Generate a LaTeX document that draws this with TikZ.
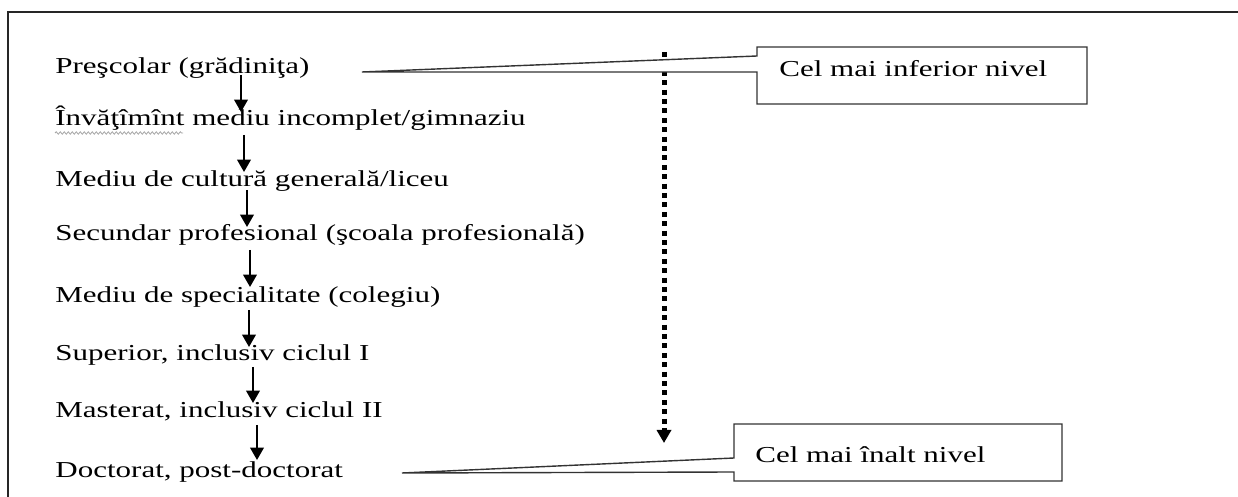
\documentclass[tikz,border=0pt]{standalone}
\usepackage{fontspec}
\setmainfont[FakeStretch=1.36]{Liberation Serif}
\usetikzlibrary{arrows.meta,decorations.pathmorphing}
\begin{document}
\begin{tikzpicture}[x=0.5pt,y=-0.5pt,
  lvl/.style={anchor=base west,inner sep=0pt,font=\fontsize{11.4pt}{13pt}\selectfont},
  stepArrow/.style={line width=1pt,-{Triangle[width=6.8pt,length=6.2pt]}},
  dotArrow/.style={line width=2.5pt,dash pattern=on 2.5pt off 2.2pt,-{Triangle[width=7pt,length=6.5pt]}},
  callout/.style={draw=black!80,fill=white,line width=0.7pt,line join=miter},
  frameline/.style={draw=black!85,line width=0.6pt}]
\useasboundingbox (0,0) rectangle (1238,497);
\draw[frameline] (8,497) -- (8,12) -- (1238,12);

% level texts
\node[lvl] (l1) at (55,74)  {Preşcolar (grădiniţa)};
\node[lvl] (l2) at (55,126) {Învăţîmînt mediu incomplet/gimnaziu};
\node[lvl] (l3) at (55,187) {Mediu de cultură generală/liceu};
\node[lvl] (l4) at (55,241) {Secundar profesional (şcoala profesională)};
\node[lvl] (l5) at (55,303) {Mediu de specialitate (colegiu)};
\node[lvl] (l6) at (55,361) {Superior, inclusiv ciclul I};
\node[lvl] (l7) at (55,418) {Masterat, inclusiv ciclul II};
\node[lvl] (l8) at (55,477) {Doctorat, post-doctorat};

% spell-check squiggle
\coordinate (sq1) at (55,133);
\coordinate (sq2) at (183,133);
\draw[gray!70,line width=0.4pt,decorate,decoration={snake,segment length=2pt,amplitude=0.6pt}] (sq1) -- (sq2);

% step arrows
\coordinate (s1) at (241,75);  \coordinate (e1) at (241,112);
\coordinate (s2) at (244,135); \coordinate (e2) at (244,172);
\coordinate (s3) at (247,190); \coordinate (e3) at (247,227);
\coordinate (s4) at (250,250); \coordinate (e4) at (250,287);
\coordinate (s5) at (249,310); \coordinate (e5) at (249,347);
\coordinate (s6) at (253,367); \coordinate (e6) at (253,403);
\coordinate (s7) at (257,425); \coordinate (e7) at (257,460);
\foreach \i in {1,...,7} {\draw[stepArrow] (s\i) -- (e\i);}

% dotted arrow
\coordinate (ds) at (664,52);
\coordinate (de) at (664,443);
\draw[dotArrow] (ds) -- (de);

% callout 1
\coordinate (t1) at (362,72);
\draw[callout] (757,47) -- (1087,47) -- (1087,104) -- (757,104) -- (757,72) -- (t1) -- (757,56) -- cycle;
\node[lvl] (c1) at (779,77) {Cel mai inferior nivel};

% callout 2
\coordinate (t2) at (402,473);
\draw[callout] (734,424) -- (1062,424) -- (1062,481) -- (734,481) -- (734,472) -- (t2) -- (734,458) -- cycle;
\node[lvl] (c2) at (755,463) {Cel mai înalt nivel};
\end{tikzpicture}
\end{document}
